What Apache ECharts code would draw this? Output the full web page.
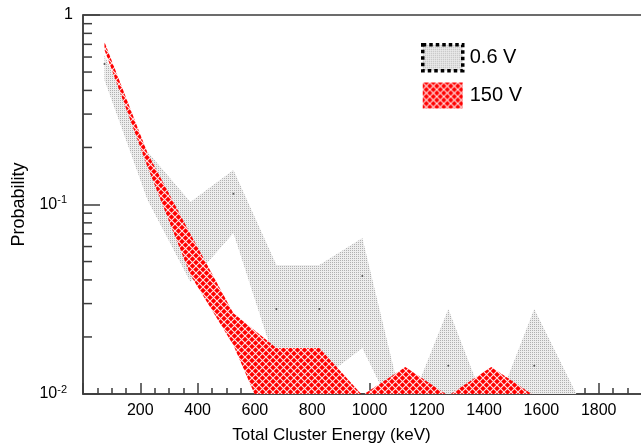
<!DOCTYPE html>
<html>
<head>
<meta charset="utf-8">
<script src="https://cdn.jsdelivr.net/npm/echarts@6/dist/echarts.min.js"></script>
<style>
  html, body { margin: 0; padding: 0; background: #fff; }
  #main { width: 641px; height: 445px; }
</style>
</head>
<body>
<div id="main"></div>
<script>
// bin centres (keV)
const energy = [75, 225, 375, 525, 675, 825, 975, 1125, 1275, 1425, 1575, 1725];

// 0.6 V band
const lowUpper = [0.615, 0.19, 0.103, 0.152, 0.048, 0.048, 0.0666, 0.0076, 0.0281, 0.0073, 0.0281, 0.0098];
const lowLower = [0.454, 0.106, 0.039, 0.0707, 0.0141, 0.0117, 0.0175, 0.006, 0.003, 0.003, 0.003, 0.003];
const lowMean = [0.551, null, null, 0.114, 0.0281, 0.0281, 0.042, null, 0.0141, null, 0.0141, null];

// 150 V band
const highUpper = [0.72, 0.187, 0.0699, 0.0267, 0.0175, 0.0175, 0.00985, 0.0139, 0.0098, 0.0139, 0.0098, 0.0099];
const highLower = [0.654, 0.158, 0.0425, 0.0181, 0.0054, 0.003, 0.003, 0.003, 0.003, 0.003, 0.003, 0.003];

const yMinorTicks = [0.02, 0.03, 0.04, 0.05, 0.06, 0.07, 0.08, 0.09,
                     0.2, 0.3, 0.4, 0.5, 0.6, 0.7, 0.8, 0.9];

const FONT = '"Liberation Sans", Arial, sans-serif';
const AXIS = '#3c3c3c';

// fill textures
function grayTile() {
  const c = document.createElement('canvas');
  c.width = 2; c.height = 2;
  const g = c.getContext('2d');
  g.fillStyle = '#ededed'; g.fillRect(0, 0, 2, 2);
  g.fillStyle = '#b0b0b0'; g.fillRect(0, 0, 1, 1);
  return c;
}
function redTile() {
  const c = document.createElement('canvas');
  c.width = 7; c.height = 7;
  const g = c.getContext('2d');
  g.fillStyle = '#ff0000'; g.fillRect(0, 0, 7, 7);
  g.strokeStyle = 'rgba(255,255,255,0.9)';
  g.lineWidth = 1.1;
  g.beginPath();
  g.moveTo(0, 0); g.lineTo(7, 7);
  g.moveTo(0, 7); g.lineTo(7, 0);
  g.stroke();
  return c;
}
const grayFill = { image: grayTile(), repeat: 'repeat' };
const redFill = { image: redTile(), repeat: 'repeat' };

function band(upper, lower, fill) {
  return function (params, api) {
    if (params.dataIndex !== 0) return null;
    const top = energy.map((e, i) => api.coord([e, upper[i]]));
    const bot = energy.map((e, i) => api.coord([e, lower[i]])).reverse();
    return {
      type: 'polygon',
      shape: { points: top.concat(bot) },
      style: { fill: fill }
    };
  };
}

var myChart = echarts.init(document.getElementById('main'));

myChart.setOption({
  animation: false,
  backgroundColor: '#fff',
  textStyle: { fontFamily: FONT },
  grid: {
    left: 83, top: 15, width: 573, height: 379,
    show: true, borderColor: AXIS, borderWidth: 1.5,
    outerBoundsMode: 'none'
  },
  legend: {
    orient: 'vertical',
    left: 416, top: 38,
    itemWidth: 40, itemHeight: 26, itemGap: 10,
    textStyle: { fontSize: 20, color: '#000', fontFamily: FONT, padding: [0, 0, 0, 2] },
    data: [
      { name: '0.6 V', icon: 'rect',
        itemStyle: { color: grayFill, borderColor: '#000', borderWidth: 3.5, borderType: [3.5, 3] } },
      { name: '150 V', icon: 'rect', itemStyle: { color: redFill, borderWidth: 0 } }
    ]
  },
  xAxis: {
    type: 'value', min: 0, max: 2000, interval: 200,
    name: 'Total Cluster Energy (keV)',
    nameLocation: 'middle', nameGap: 33,
    nameTextStyle: { fontSize: 17, color: '#000', padding: [0, 76, 0, 0] },
    axisLine: { lineStyle: { color: AXIS, width: 1.5 } },
    axisTick: { inside: true, length: 11, lineStyle: { color: AXIS, width: 1.5 } },
    minorTick: { show: true, splitNumber: 4, length: 6, lineStyle: { color: AXIS, width: 1.5 } },
    splitLine: { show: false },
    axisLabel: {
      fontSize: 16, color: '#000', margin: 9,
      formatter: v => (v === 0 || v === 2000) ? '' : String(v)
    }
  },
  yAxis: {
    type: 'log', logBase: 10, min: 0.01, max: 1,
    name: 'Probability',
    nameLocation: 'middle', nameGap: 47,
    nameTextStyle: { fontSize: 18, color: '#000' },
    axisLine: { lineStyle: { color: AXIS, width: 1.5 } },
    axisTick: { inside: true, length: 17, lineStyle: { color: AXIS, width: 1.5 } },
    splitLine: { show: false },
    axisLabel: {
      margin: 10, color: '#000',
      formatter: function (v) {
        const p = Math.round(Math.log10(v));
        if (p === 0) return '{b|1}';
        return '{b|10}{s|' + p + '}';
      },
      rich: {
        b: { fontSize: 16, color: '#000', fontFamily: FONT },
        s: { fontSize: 11, color: '#000', fontFamily: FONT, padding: [0, 6, 9, 0] }
      }
    }
  },
  series: [
    {
      name: '0.6 V', type: 'custom', clip: true, silent: true,
      itemStyle: { color: grayFill },
      data: energy.map((e, i) => [e, lowUpper[i]]),
      renderItem: band(lowUpper, lowLower, grayFill),
      z: 2
    },
    {
      name: '0.6 V mean', type: 'scatter', silent: true,
      symbolSize: 2, itemStyle: { color: '#333' },
      data: energy.map((e, i) => [e, lowMean[i]]).filter(d => d[1] != null),
      z: 3
    },
    {
      name: '150 V', type: 'custom', clip: true, silent: true,
      itemStyle: { color: redFill },
      data: energy.map((e, i) => [e, highUpper[i]]),
      renderItem: band(highUpper, highLower, redFill),
      z: 4
    },
    {
      // log-axis minor ticks
      name: 'ticks', type: 'custom', silent: true,
      data: yMinorTicks.map(v => [0, v]),
      renderItem: function (params, api) {
        const p = api.coord([0, api.value(1)]);
        return {
          type: 'line',
          shape: { x1: p[0], y1: p[1], x2: p[0] + 9, y2: p[1] },
          style: { stroke: AXIS, lineWidth: 1.5 }
        };
      },
      z: 5
    }
  ]
});
</script>
</body>
</html>
